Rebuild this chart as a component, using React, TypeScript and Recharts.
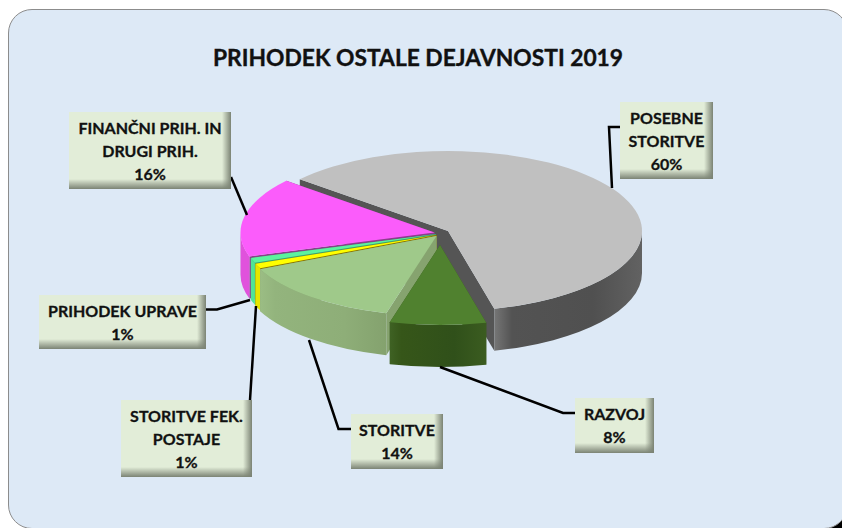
import { PieChart, Pie } from "recharts";

const names = [
  "POSEBNE STORITVE",
  "FINANČNI PRIH. IN DRUGI PRIH.",
  "PRIHODEK UPRAVE",
  "STORITVE FEK. POSTAJE",
  "STORITVE",
  "RAZVOJ",
];
const values = [60, 16, 1, 1, 14, 8];
const labelLines = [
  ["POSEBNE", "STORITVE"],
  ["FINANČNI PRIH. IN", "DRUGI PRIH."],
  ["PRIHODEK UPRAVE"],
  ["STORITVE FEK.", "POSTAJE"],
  ["STORITVE"],
  ["RAZVOJ"],
];
const chartData = names.map((name, i) => ({ name, value: values[i] }));

// look of the slices, same order as names
const topColors = ["#c0c0c0", "#fb5cfb", "#5cf29e", "#ffff00", "#9fc98a", "#50812f"];
const cutColors = ["#555555", "#8a3f8a", "#3fa070", "#8a7400", "#86a36f", "#3a5a20"];
const wallStops = [
  ["#767676", "#535353", "#505050", "#626262"],
  ["#d94fd6", "#e052dc", "#e052dc", "#e052dc"],
  ["#50e496", "#50e496", "#50e496", "#50e496"],
  ["#e6e600", "#e6e600", "#e6e600", "#e6e600"],
  ["#9bbd84", "#93b47d", "#8eae78", "#84a26e"],
  ["#3f6224", "#365619", "#30501a", "#3b5c20"],
];
// how far each slice is pulled out of the pie
const explode = [
  [8, -7],
  [-5.5, -5.5],
  [-4, -4],
  [-3.5, -3],
  [-3.5, -2],
  [0, 7],
];
// label boxes: x, y, w, h and leader line
const boxes = [
  { x: 620, y: 102, w: 93, h: 77, line: "620,127 609,127 612,188" },
  { x: 69, y: 112, w: 162, h: 77, line: "231,177 247,215" },
  { x: 39, y: 295, w: 167, h: 54, line: "206,309.5 217,309.5 250,300" },
  { x: 121, y: 400, w: 131, h: 77, line: "250,400 256,306" },
  { x: 351, y: 414, w: 92, h: 55, line: "309,340 338.5,429 351,429" },
  { x: 575, y: 398, w: 79, h: 55, line: "440,367 563,413 575,413" },
];

const SQUASH = 80 / 194;
const DEPTH = 42;

function pt(cx: number, cy: number, r: number, deg: number) {
  const a = (deg * Math.PI) / 180;
  return [cx + r * Math.cos(a), cy - r * SQUASH * Math.sin(a)];
}

function Slice3D(props: any) {
  const i = names.indexOf(props.name);
  const cx = props.cx + explode[i][0];
  const cy = props.cy + explode[i][1];
  const r = props.outerRadius;
  const s = props.startAngle;
  const e = props.endAngle;
  const ry = r * SQUASH;
  const a = pt(cx, cy, r, s);
  const b = pt(cx, cy, r, e);
  const large = e - s > 180 ? 1 : 0;

  const cut = (p: number[]) =>
    `M${cx},${cy}L${p[0]},${p[1]}L${p[0]},${p[1] + DEPTH}L${cx},${cy + DEPTH}Z`;

  // only the front half of the rim shows a wall
  const walls: string[] = [];
  [-180, 180].forEach((base) => {
    const lo = Math.max(s, base);
    const hi = Math.min(e, base + 180);
    if (hi > lo) {
      const p = pt(cx, cy, r, lo);
      const q = pt(cx, cy, r, hi);
      walls.push(
        `M${p[0]},${p[1]}A${r},${ry} 0 0 0 ${q[0]},${q[1]}L${q[0]},${q[1] + DEPTH}A${r},${ry} 0 0 1 ${p[0]},${p[1] + DEPTH}Z`
      );
    }
  });

  return (
    <g>
      <path d={cut(a)} fill={cutColors[i]} />
      <path d={cut(b)} fill={cutColors[i]} />
      {walls.map((d) => (
        <path key={d} d={d} fill={`url(#wall${i})`} />
      ))}
      <path
        d={`M${cx},${cy}L${a[0]},${a[1]}A${r},${ry} 0 ${large} 0 ${b[0]},${b[1]}Z`}
        fill={topColors[i]}
      />
    </g>
  );
}

function BoxLabel(props: any) {
  const i = names.indexOf(props.name);
  const b = boxes[i];
  const lines = [...labelLines[i], `${Math.round(props.percent * 100)}%`];
  return (
    <g>
      <polyline points={b.line} fill="none" stroke="#000000" strokeWidth={2.5} />
      <rect x={b.x} y={b.y} width={b.w} height={b.h} fill="#e2edd8" />
      <rect x={b.x + b.w - 9} y={b.y} width={9} height={b.h} fill="url(#bevelRight)" />
      <rect x={b.x} y={b.y + b.h - 10} width={b.w} height={10} fill="url(#bevelBottom)" />
      {lines.map((t, k) => (
        <text
          key={k}
          x={b.x + b.w / 2}
          y={b.y + 22 + k * 23}
          textAnchor="middle"
          fontFamily="Lato"
          fontWeight={700}
          fontSize={16}
          stroke="#111111"
          strokeWidth={0.3}
          fill="#111111"
        >
          {t}
        </text>
      ))}
    </g>
  );
}

export default function App() {
  return (
    <div style={{ position: "absolute", left: 0, top: 0, width: 842, height: 528, background: "#ffffff", overflow: "hidden" }}>
      <div style={{ position: "absolute", right: 0, bottom: 0, width: 24, height: 24, background: "#000000" }} />
      <div
        style={{
          position: "absolute",
          left: 8,
          top: 9,
          width: 840,
          height: 520,
          background: "#dde9f6",
          border: "1px solid #8c8c8c",
          borderRadius: 24,
          boxSizing: "border-box",
        }}
      />
      <div style={{ position: "absolute", left: 0, top: 0 }}>
        <PieChart width={842} height={528} margin={{ top: 0, right: 0, bottom: 0, left: 0 }}>
          <defs>
            {wallStops.map((stops, i) => (
              <linearGradient key={i} id={`wall${i}`} x1="0" y1="0" x2="1" y2="0">
                {stops.map((c, k) => (
                  <stop key={k} offset={k === 1 ? 0.12 : k / 3} stopColor={c} />
                ))}
              </linearGradient>
            ))}
            <linearGradient id="bevelRight" x1="0" y1="0" x2="1" y2="0">
              <stop offset="0" stopColor="#7b8374" stopOpacity={0} />
              <stop offset="1" stopColor="#7b8374" stopOpacity={1} />
            </linearGradient>
            <linearGradient id="bevelBottom" x1="0" y1="0" x2="0" y2="1">
              <stop offset="0" stopColor="#7b8374" stopOpacity={0} />
              <stop offset="1" stopColor="#7b8374" stopOpacity={1} />
            </linearGradient>
          </defs>
          <text
            x={418}
            y={66}
            textAnchor="middle"
            fontFamily="Lato"
            fontWeight={700}
            fontSize={22.8}
            stroke="#111111"
            strokeWidth={0.35}
            fill="#111111"
          >
            PRIHODEK OSTALE DEJAVNOSTI 2019
          </text>
          <Pie
            data={chartData}
            dataKey="value"
            nameKey="name"
            cx={440}
            cy={238}
            outerRadius={194}
            startAngle={-76.2}
            endAngle={283.8}
            stroke="none"
            shape={Slice3D}
            label={BoxLabel}
            labelLine={false}
            isAnimationActive={false}
          />
        </PieChart>
      </div>
    </div>
  );
}
